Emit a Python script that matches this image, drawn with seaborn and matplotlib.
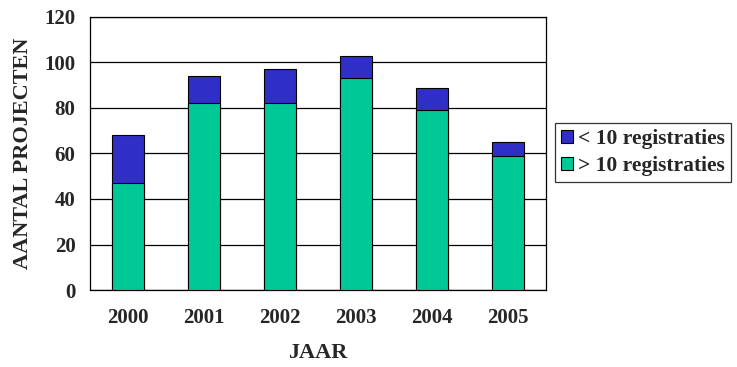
import matplotlib
matplotlib.use("Agg")
import matplotlib.pyplot as plt
import seaborn as sns
import pandas as pd
from matplotlib.patches import Patch

years = ["2000", "2001", "2002", "2003", "2004", "2005"]
more_than_10 = [47, 82, 82, 93, 79, 59]
less_than_10 = [21, 12, 15, 10, 10, 6]
series_labels = ["< 10 registraties", "> 10 registraties"]

totals = [a + b for a, b in zip(more_than_10, less_than_10)]
df = pd.DataFrame({"jaar": years, "groot": more_than_10, "totaal": totals})

sns.set_style("white")
plt.rcParams["font.family"] = ["Liberation Serif", "DejaVu Serif"]
plt.rcParams["font.weight"] = "bold"

blue = "#2F2FC8"
green = "#00C896"

fig = plt.figure(figsize=(7.37, 3.67), dpi=100)
ax = fig.add_axes([0.1221, 0.2098, 0.6187, 0.7439])

# total height in blue, lower part in green on top of it
sns.barplot(data=df, x="jaar", y="totaal", color=blue, width=0.41, saturation=1,
            edgecolor="black", linewidth=0.8, ax=ax, zorder=3)
sns.barplot(data=df, x="jaar", y="groot", color=green, width=0.41, saturation=1,
            edgecolor="black", linewidth=0.8, ax=ax, zorder=4)

ax.set_ylim(0, 120)
ax.set_xlim(-0.5, len(years) - 0.5)
ax.set_yticks(range(0, 121, 20))
ax.yaxis.grid(True, color="black", linewidth=0.9, zorder=0)
ax.set_axisbelow(True)
for s in ax.spines.values():
    s.set_visible(True)
    s.set_color("black")
    s.set_linewidth(0.9)

ax.set_xticks([i - 0.5 for i in range(len(years) + 1)], minor=False)
ax.set_xticklabels([])
ax.set_xticks(range(len(years)), minor=True)
ax.set_xticklabels(years, minor=True, fontsize=15, fontweight="bold")
ax.tick_params(axis="x", which="major", direction="out", length=5, color="black", width=0.9)
ax.tick_params(axis="x", which="minor", length=0, pad=13)
ax.tick_params(axis="y", direction="inout", length=9, color="black", width=0.9,
               labelsize=15, pad=6)
for t in ax.get_yticklabels():
    t.set_fontweight("bold")

ax.set_xlabel("JAAR", fontsize=16, fontweight="bold", labelpad=11)
ax.set_ylabel("AANTAL PROJECTEN", fontsize=16, fontweight="bold", labelpad=8)

handles = [Patch(facecolor=blue, edgecolor="black", linewidth=0.8),
           Patch(facecolor=green, edgecolor="black", linewidth=0.8)]
leg = fig.legend(handles, series_labels, loc="upper left",
                 bbox_to_anchor=(555 / 737, 1 - 123 / 367),
                 frameon=True, fancybox=False, edgecolor="black",
                 prop={"family": "Liberation Serif", "weight": "bold", "size": 15.5},
                 handlelength=0.55, handleheight=0.55, handletextpad=0.2,
                 borderpad=0.3, labelspacing=0.3, borderaxespad=0)
leg.get_frame().set_linewidth(0.9)

fig.savefig("out.png", dpi=100)
